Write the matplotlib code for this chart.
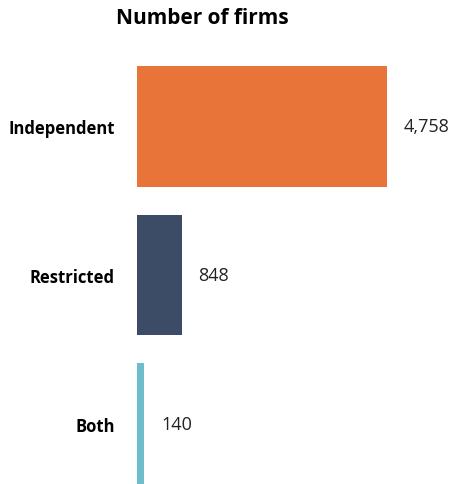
import matplotlib.pyplot as plt

categories = ["Independent", "Restricted", "Both"]
firms = [4758, 848, 140]
colors = ["#E8743A", "#3C4B66", "#6DBDCC"]

plt.rcParams['font.family'] = ['Open Sans', 'DejaVu Sans']

fig = plt.figure(figsize=(4.53, 4.85), dpi=100)
ax = fig.add_axes([137/453, 0, 316/453, 418/485])

pos = list(range(len(categories)))
ax.barh(pos, firms, height=0.812, color=colors)
ax.set_xlim(0, 6014)
ax.set_ylim(2.406, -0.406)

for p, v in zip(pos, firms):
    ax.annotate(f"{v:,}", (v, p), xytext=(17, 0), textcoords='offset pixels',
                ha='left', va='center', fontsize=13, color='#222222')

ax.set_yticks(pos)
ax.set_yticklabels(categories, fontsize=12, fontweight='bold')
ax.tick_params(axis='y', length=0, pad=16)
ax.set_xticks([])
for s in ax.spines.values():
    s.set_visible(False)

fig.text(202/453, 1 - 18/485, "Number of firms", ha='center', va='center',
         fontsize=15, fontweight='bold')

plt.savefig("out.png", dpi=100)
